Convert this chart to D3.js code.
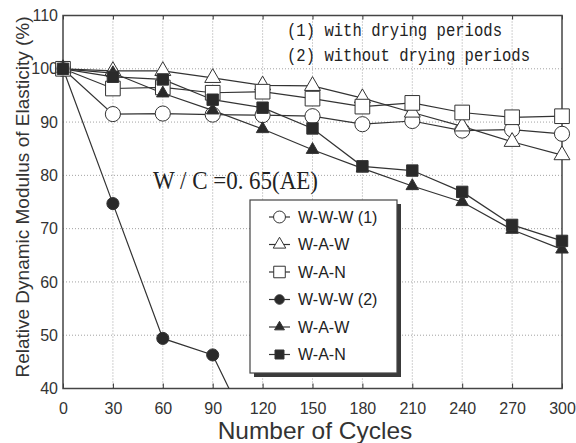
<!DOCTYPE html>
<html>
<head>
<meta charset="utf-8">
<script src="https://cdn.jsdelivr.net/npm/d3@7"></script>
<style>
  body { margin: 0; background: #fff; }
  svg { display: block; }
</style>
</head>
<body>
<div id="chart"></div>
<script>
// cycles on the x axis
var cycles = [0, 30, 60, 90, 120, 150, 180, 210, 240, 270, 300];

// (1) with drying periods
var wwwDry = [100, 91.5, 91.6, 91.4, 91.3, 91.1, 89.6, 90.2, 88.4, 88.6, 87.8];
var wawDry = [100, 99.6, 99.6, 98.3, 96.9, 96.8, 94.5, 91.8, 89.2, 86.3, 83.8];
var wanDry = [100, 96.3, 96.5, 95.5, 95.7, 94.4, 92.9, 93.6, 91.8, 90.9, 91.1];

// (2) without drying periods
var wwwWet = [100, 74.7, 49.4, 46.3, 27];
var wawWet = [100, 99.2, 95.4, 92.2, 88.7, 84.8, 81.3, 78.0, 75.0, 69.8, 66.1];
var wanWet = [100, 98.5, 98.0, 94.2, 92.7, 88.8, 81.7, 80.9, 76.9, 70.7, 67.7];

var xTicks = [0, 30, 60, 90, 120, 150, 180, 210, 240, 270, 300];
var yTicks = [40, 50, 60, 70, 80, 90, 100, 110];

var legendLabels = ["W-W-W (1)", "W-A-W", "W-A-N", "W-W-W (2)", "W-A-W", "W-A-N"];

var series = [
    {values: wwwDry, shape: d3.symbolCircle, size: 180, fill: "#fff"},
    {values: wawDry, shape: d3.symbolTriangle, size: 110, fill: "#fff"},
    {values: wanDry, shape: d3.symbolSquare, size: 215, fill: "#fff"},
    {values: wwwWet, shape: d3.symbolCircle, size: 115, fill: "#2a2a2a"},
    {values: wawWet, shape: d3.symbolTriangle, size: 68, fill: "#2a2a2a"},
    {values: wanWet, shape: d3.symbolSquare, size: 130, fill: "#2a2a2a"}
];

var W = 576, H = 443;
var margin = {top: 15.5, right: 14, bottom: 54.5, left: 63},
    width = W - margin.left - margin.right,
    height = H - margin.top - margin.bottom;

var ink = "#333";

var svg = d3.select("#chart").append("svg")
    .attr("width", W)
    .attr("height", H)
    .style("font-family", "'Liberation Sans', Arial, sans-serif");

var g = svg.append("g")
    .attr("transform", "translate(" + margin.left + "," + margin.top + ")");

var x = d3.scaleLinear().domain([0, 300]).range([0, width]);
var y = d3.scaleLinear().domain([40, 110]).range([height, 0]);

// only cut what drops below the x axis
svg.append("clipPath").attr("id", "plotClip")
  .append("rect")
    .attr("x", -20).attr("y", -20)
    .attr("width", width + 40)
    .attr("height", height + 20);

// dotted grid
g.selectAll(".vgrid")
    .data(xTicks.slice(1, -1))
    .enter().append("line")
    .attr("x1", function(d) { return x(d); })
    .attr("x2", function(d) { return x(d); })
    .attr("y1", 0).attr("y2", height)
    .attr("stroke", "#8a8a8a").attr("stroke-width", 0.8)
    .attr("stroke-dasharray", "1,2");

g.selectAll(".hgrid")
    .data(yTicks.slice(1, -1))
    .enter().append("line")
    .attr("y1", function(d) { return y(d); })
    .attr("y2", function(d) { return y(d); })
    .attr("x1", 0).attr("x2", width)
    .attr("stroke", "#8a8a8a").attr("stroke-width", 0.8)
    .attr("stroke-dasharray", "1,2");

// axes, ticks pointing inward
var xAxis = g.append("g")
    .attr("transform", "translate(0," + height + ")")
    .call(d3.axisBottom(x).tickValues(xTicks).tickSizeInner(-5).tickSizeOuter(0).tickPadding(14));
var xTop = g.append("g")
    .call(d3.axisTop(x).tickValues(xTicks).tickSizeInner(-4).tickSizeOuter(0).tickFormat(""));
var yAxis = g.append("g")
    .call(d3.axisLeft(y).tickValues(yTicks).tickSizeInner(0).tickSizeOuter(0).tickPadding(5));

[xAxis, xTop, yAxis].forEach(function(a) {
    a.select(".domain").remove();
    a.selectAll("line").attr("stroke", ink).attr("stroke-width", 1);
    a.selectAll("text")
        .attr("fill", "#333")
        .style("font-size", "16px")
        .style("font-family", "'Liberation Sans', Arial, sans-serif");
});

// frame
g.append("rect")
    .attr("width", width)
    .attr("height", height)
    .attr("fill", "none")
    .attr("stroke", "#444")
    .attr("stroke-width", 1.5);

// lines
var line = d3.line()
    .x(function(d, i) { return x(cycles[i]); })
    .y(function(d) { return y(d); });

var plot = g.append("g").attr("clip-path", "url(#plotClip)");

series.forEach(function(s) {
    plot.append("path")
        .datum(s.values)
        .attr("d", line)
        .attr("fill", "none")
        .attr("stroke", ink)
        .attr("stroke-width", 1.2);
});

// markers
series.forEach(function(s) {
    plot.selectAll(null)
        .data(s.values.filter(function(v) { return v >= 40; }))
        .enter().append("path")
        .attr("d", d3.symbol().type(s.shape).size(s.size))
        .attr("transform", function(d, i) { return "translate(" + x(cycles[i]) + "," + y(d) + ")"; })
        .attr("fill", s.fill)
        .attr("stroke", ink)
        .attr("stroke-width", 1);
});

// annotations
var mono = "'Liberation Mono', 'Courier New', monospace";
g.append("text")
    .attr("x", 224).attr("y", 20)
    .attr("textLength", 215).attr("lengthAdjust", "spacingAndGlyphs")
    .style("font-family", mono).style("font-size", "18px").attr("fill", "#222")
    .text("(1) with drying periods");
g.append("text")
    .attr("x", 224).attr("y", 45)
    .attr("textLength", 243).attr("lengthAdjust", "spacingAndGlyphs")
    .style("font-family", mono).style("font-size", "18px").attr("fill", "#222")
    .text("(2) without drying periods");

g.append("text")
    .attr("x", 90).attr("y", 173)
    .attr("textLength", 165).attr("lengthAdjust", "spacingAndGlyphs")
    .style("font-family", "'Liberation Serif', 'Times New Roman', serif")
    .style("font-size", "26px").attr("fill", "#222")
    .text("W / C =0. 65(AE)");

// legend
var lg = g.append("g").attr("transform", "translate(187,184.5)");
lg.append("rect")
    .attr("x", 4).attr("y", 4)
    .attr("width", 147).attr("height", 173)
    .attr("fill", "#3a3a3a");
lg.append("rect")
    .attr("width", 147).attr("height", 173)
    .attr("fill", "#fff")
    .attr("stroke", "#444").attr("stroke-width", 1.2);

var rows = lg.selectAll(".row")
    .data(series)
    .enter().append("g")
    .attr("transform", function(d, i) { return "translate(0," + (17 + i * 27.5) + ")"; });

rows.append("line")
    .attr("x1", 19).attr("x2", 40)
    .attr("stroke", ink).attr("stroke-width", 1.2);
rows.append("path")
    .attr("d", function(d) { return d3.symbol().type(d.shape).size(d.size * 0.62)(); })
    .attr("transform", "translate(29.5,0)")
    .attr("fill", function(d) { return d.fill; })
    .attr("stroke", ink).attr("stroke-width", 1);
rows.append("text")
    .attr("x", 48).attr("y", 5.5)
    .style("font-size", "16px")
    .attr("fill", "#222")
    .text(function(d, i) { return legendLabels[i]; });

// axis titles
svg.append("text")
    .attr("transform", "translate(29," + 197 + ") rotate(-90)")
    .attr("text-anchor", "middle")
    .style("font-size", "19px")
    .attr("fill", "#333")
    .text("Relative Dynamic Modulus of Elasticity (%)");

svg.append("text")
    .attr("x", 315).attr("y", 438.5)
    .attr("text-anchor", "middle")
    .style("font-size", "24.5px")
    .attr("fill", "#333")
    .text("Number of Cycles");
</script>
</body>
</html>
